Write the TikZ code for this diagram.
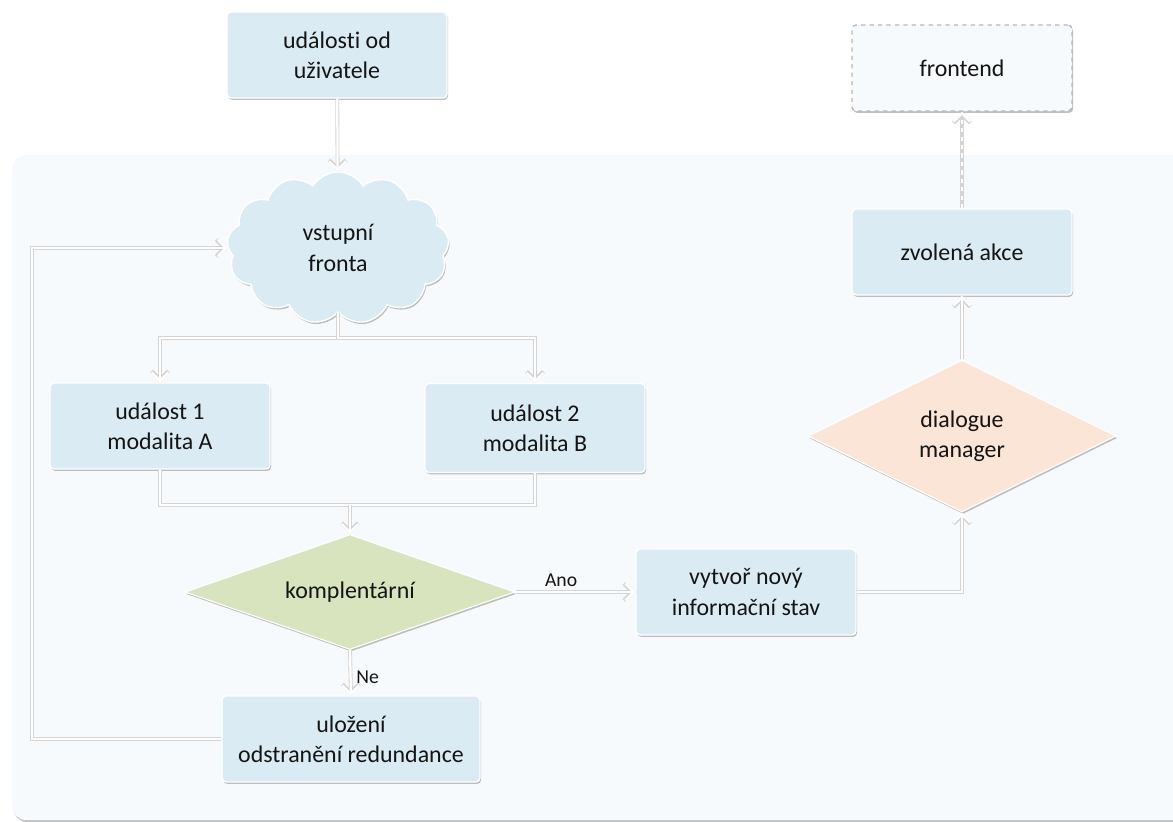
\documentclass[tikz,border=0pt]{standalone}
\usepackage{fontspec}
\setmainfont{Carlito}[Ligatures=NoCommon]
\usetikzlibrary{shapes.geometric,shapes.symbols,arrows.meta,shadows}
\definecolor{boxblue}{RGB}{219,235,243}
\definecolor{panelgrey}{RGB}{247,250,252}
\definecolor{leafgreen}{RGB}{215,228,189}
\definecolor{peach}{RGB}{251,229,214}
\definecolor{ink}{RGB}{20,20,20}
\tikzset{softshadow/.style={drop shadow={shadow xshift=0.8pt, shadow yshift=-1.4pt, opacity=0.35, fill=black!70}},
  box/.style={rectangle, rounded corners=3pt, draw=white, line width=1pt, fill=boxblue, minimum width=5.5cm, minimum height=2.15cm, align=center, text=ink, font=\fontsize{17}{21.5}\selectfont, softshadow},
  choice/.style={diamond, draw=white, line width=0.8pt, inner sep=0pt, align=center, text=ink, font=\fontsize{17}{21.5}\selectfont, softshadow},
  conn/.style={draw=white, line width=1.6pt, preaction={draw=black!17, line width=2.8pt}, -{Straight Barb[length=6pt,width=12pt]}},
  line/.style={draw=white, line width=1.6pt, preaction={draw=black!17, line width=2.8pt}},
  tag/.style={text=ink, font=\fontsize{14}{16}\selectfont}}
\begin{document}
\begin{tikzpicture}[x=0.025cm, y=-0.025cm]
  \useasboundingbox (0,0) rectangle (1173,822);
  \fill [panelgrey, rounded corners=10pt, softshadow] (12,155) rectangle (1190,820);
  \node [box] (top) at (337,55) {události od\\uživatele};
  \node [box, fill=panelgrey, draw=black!28, dashed] (front) at (962,68) {frontend};
  \node [cloud, cloud puffs=13, cloud puff arc=115, aspect=1.5, draw=white, line width=1pt, fill=boxblue, minimum width=5.55cm, minimum height=3.8cm, align=center, text=ink, font=\fontsize{17}{21.5}\selectfont, softshadow] (queue) at (338,248) {vstupní\\fronta};
  \node [box] (act) at (962,252) {zvolená akce};
  \node [box] (ev1) at (160,426) {událost 1\\modalita A};
  \node [box, minimum height=2.225cm] (ev2) at (535,428) {událost 2\\modalita B};
  \node [choice, fill=peach, aspect=2, minimum width=7.7cm, minimum height=3.8cm] (dm) at (962,436) {dialogue\\manager};
  \node [choice, fill=leafgreen, aspect=2.9, minimum width=8.25cm, minimum height=2.875cm] (compl) at (350,592) {komplentární};
  \node [box] (new) at (746,592) {vytvoř nový\\informační stav};
  \node [box, minimum width=6.45cm] (store) at (351,739) {uložení\\odstranění redundance};
  \coordinate (join) at (350,505);
  \draw [conn] (top) -- (queue);
  \draw [conn] (queue.south) -- ++(0,25) -| (ev1.north);
  \draw [conn] (queue.south) -- ++(0,25) -| (ev2.north);
  \draw [line] (ev1.south) |- (join);
  \draw [line] (ev2.south) |- (join);
  \draw [conn] (join) -- (compl.north);
  \draw [conn] (compl.east) -- node [tag, above, pos=0.38] {Ano} (new.west);
  \draw [conn] (compl.south) -- node [tag, right, pos=0.6] {Ne} (store.north);
  \draw [conn] (store.west) -- ++(-189,0) |- (queue.west);
  \draw [conn] (new.east) -| (dm.south);
  \draw [conn] (dm.north) -- (act.south);
  \draw [conn, dashed] (act.north) -- (front.south);
\end{tikzpicture}
\end{document}
